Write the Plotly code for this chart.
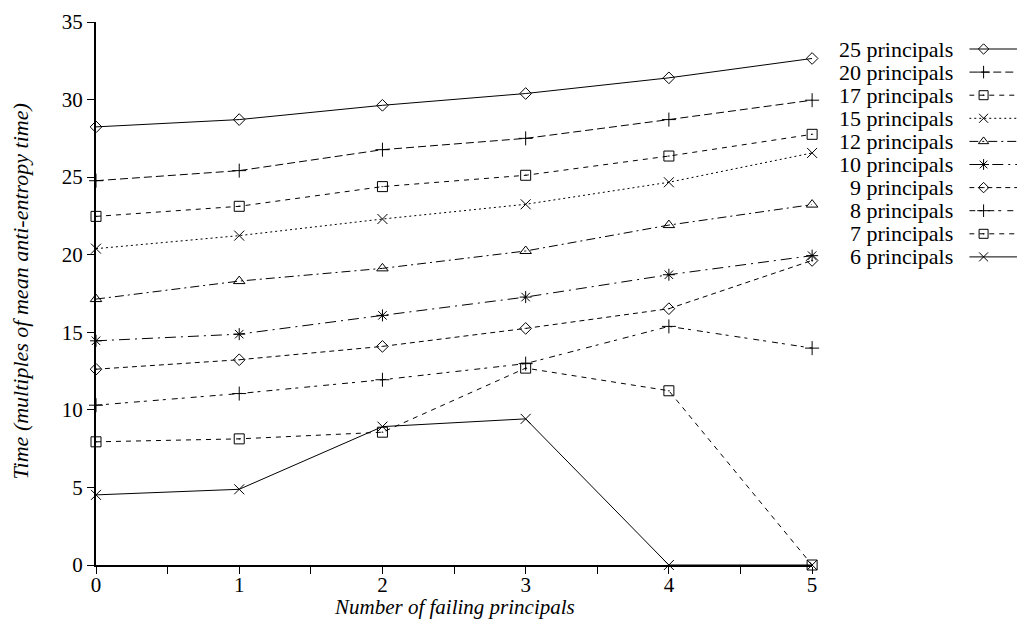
import plotly.graph_objects as go

x_failing = [0, 1, 2, 3, 4, 5]
series_names = ["25 principals", "20 principals", "17 principals", "15 principals",
                "12 principals", "10 principals", "9 principals", "8 principals",
                "7 principals", "6 principals"]
p25 = [28.24, 28.71, 29.63, 30.39, 31.40, 32.65]
p20 = [24.77, 25.42, 26.77, 27.50, 28.71, 29.96]
p17 = [22.47, 23.12, 24.39, 25.12, 26.36, 27.76]
p15 = [20.39, 21.23, 22.30, 23.25, 24.67, 26.56]
p12 = [17.14, 18.30, 19.12, 20.24, 21.91, 23.23]
p10 = [14.45, 14.88, 16.09, 17.27, 18.71, 19.94]
p9 = [12.62, 13.23, 14.09, 15.25, 16.52, 19.63]
p8 = [10.30, 11.05, 11.94, 12.98, 15.38, 13.98]
p7 = [7.94, 8.13, 8.56, 12.69, 11.23, 0.0]
p6 = [4.52, 4.88, 8.92, 9.42, 0.0, 0.0]
all_series = [p25, p20, p17, p15, p12, p10, p9, p8, p7, p6]

x_ticks = [0, 0.5, 1, 1.5, 2, 2.5, 3, 3.5, 4, 4.5, 5]
x_ticktext = ["0", "", "1", "", "2", "", "3", "", "4", "", "5"]
y_ticks = [0, 5, 10, 15, 20, 25, 30, 35]

dashes = ["solid", "8px,4px", "5px,5px", "2px,3px", "9px,4px,2px,4px",
          "11px,5px,2px,5px", "5px,4px", "6px,4px,3px,6px", "5px,5px", "solid"]
symbols = ["diamond-open", "cross-thin-open", "square-open-dot", "x-thin-open",
           "triangle-up-open", "asterisk-open", "diamond-open-dot", "cross-thin-open",
           "square-open-dot", "x-thin-open"]
sizes = [9, 10, 10, 10, 10, 10, 9, 10, 10, 10]

FONT = "Liberation Serif, Times New Roman, serif"
W, H = 1022, 627
ML, MR, MT, MB = 96, 0, 22, 62
plot_w = W - ML - MR
plot_h = H - MT - MB
x_right_px = 816
leg_x0_px, leg_text_px = 974, 960

fig = go.Figure()
for name, ys, d, s, sz in zip(series_names, all_series, dashes, symbols, sizes):
    fig.add_trace(go.Scatter(
        x=x_failing, y=ys, mode="lines+markers", name=name,
        line=dict(color="black", width=1, dash=d),
        marker=dict(symbol=s, size=sz, color="black", line=dict(color="black", width=1)),
        showlegend=False, cliponaxis=False,
    ))

# custom gnuplot-style legend (text on left, sample on right)
for i, (name, d, s, sz) in enumerate(zip(series_names, dashes, symbols, sizes)):
    fig.add_trace(go.Scatter(
        x=[0, 1], y=[i, i], mode="lines", xaxis="x2", yaxis="y2",
        line=dict(color="black", width=1, dash=d), showlegend=False, hoverinfo="skip",
    ))
    fig.add_trace(go.Scatter(
        x=[0.3], y=[i], mode="markers", xaxis="x2", yaxis="y2",
        marker=dict(symbol=s, size=sz - 1, color="black", line=dict(color="black", width=1)),
        showlegend=False, hoverinfo="skip",
    ))
    fig.add_annotation(
        x=(leg_text_px - ML) / plot_w, xref="paper", y=i, yref="y2",
        text=name, showarrow=False, xanchor="right", yanchor="middle",
        font=dict(family=FONT, size=22, color="black"),
    )

# axis titles as annotations for precise placement
fig.add_annotation(
    x=((96 + 816) / 2 - ML) / plot_w, xref="paper",
    y=(H - MB - 607) / plot_h, yref="paper",
    text="<i>Number of failing principals</i>", showarrow=False,
    xanchor="center", yanchor="middle",
    font=dict(family=FONT, size=21, color="black"),
)
fig.add_annotation(
    x=(20 - ML) / plot_w, xref="paper", y=(H - MB - 291) / plot_h, yref="paper",
    text="<i>Time (multiples of mean anti-entropy time)</i>", showarrow=False,
    textangle=-90, xanchor="center", yanchor="middle",
    font=dict(family=FONT, size=22, color="black"),
)

row_top, row_step = 49, 23.1
top_px = row_top - row_step / 2
bot_px = row_top + 9 * row_step + row_step / 2
y2_dom = [(H - MB - bot_px) / plot_h, (H - MB - top_px) / plot_h]

fig.update_layout(
    width=W, height=H,
    margin=dict(l=ML, r=MR, t=MT, b=MB),
    paper_bgcolor="white", plot_bgcolor="white",
    font=dict(family=FONT, size=19, color="black"),
    xaxis=dict(
        domain=[0, (x_right_px - ML) / plot_w], range=[0, 5],
        tickmode="array", tickvals=x_ticks, ticktext=x_ticktext,
        ticks="outside", ticklen=7, tickwidth=1, tickcolor="black",
        ticklabelstandoff=-7,
        showline=True, linecolor="black", linewidth=2,
        showgrid=False, zeroline=False,
        tickfont=dict(family=FONT, size=21),
    ),
    yaxis=dict(
        range=[0, 35], tickmode="array", tickvals=y_ticks,
        ticks="outside", ticklen=7, tickwidth=1, tickcolor="black",
        showline=True, linecolor="black", linewidth=2,
        showgrid=False, zeroline=False,
        tickfont=dict(family=FONT, size=21),
    ),
    xaxis2=dict(domain=[(leg_x0_px - ML) / plot_w, 1], range=[0, 1], visible=False,
                anchor="y2", fixedrange=True),
    yaxis2=dict(domain=y2_dom, range=[9.5, -0.5], visible=False, anchor="x2",
                fixedrange=True),
)

fig.write_html("out.html")
